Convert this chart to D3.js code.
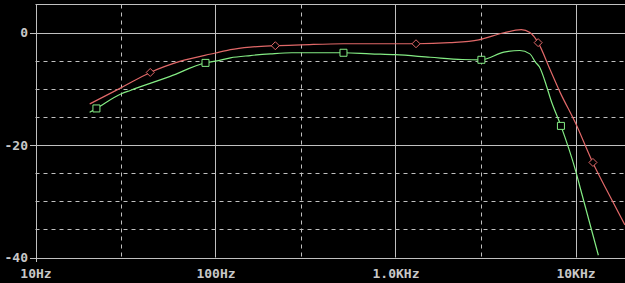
<!DOCTYPE html>
<html>
<head>
<meta charset="utf-8">
<script src="https://d3js.org/d3.v7.min.js"></script>
<style>
  html, body { margin: 0; padding: 0; background: #000; }
  svg { display: block; }
  text { font-family: "DejaVu Sans Mono", monospace; font-size: 13px; font-weight: bold; fill: #c8c8c8; }
</style>
</head>
<body>
<svg id="chart"></svg>
<script>
// ----------------------------------------
//  Data
// ----------------------------------------

var redFreq = [20, 30, 43.4, 64, 100, 121, 156, 215, 300, 514, 1000, 1300, 2000, 2900, 4000, 5000, 5580, 6200, 7200, 8200, 10000, 12500, 14900, 18800];
var redDb   = [-12.7, -9.8, -7.1, -5.1, -3.65, -3.05, -2.6, -2.35, -2.2, -2.0, -2.0, -2.0, -1.8, -1.3, -0.05, 0.5, 0.0, -1.8, -6.5, -10.6, -16.1, -23.2, -28.0, -34.2];

var greenFreq = [20, 21.8, 30, 33.6, 56, 88, 100, 121, 156, 202, 265, 514, 725, 1000, 1560, 2350, 3000, 4000, 4900, 5580, 6000, 6300, 6900, 7300, 8300, 10000, 10700, 13400];
var greenDb   = [-14.2, -13.5, -10.9, -10.3, -7.8, -5.4, -5.1, -4.5, -4.1, -3.8, -3.6, -3.6, -3.8, -3.95, -4.4, -4.8, -4.85, -3.5, -3.2, -3.8, -5.3, -6.1, -9.5, -12.0, -16.6, -24.5, -28.0, -39.6];

var redMarkFreq   = [43.4, 215, 1300, 6200, 12500];
var redMarkDb     = [-7.1, -2.35, -2.0, -1.8, -23.1];
var greenMarkFreq = [21.8, 88, 514, 3000, 8300];
var greenMarkDb   = [-13.5, -5.4, -3.6, -4.85, -16.6];

var xTicks      = [10, 100, 1000, 10000];
var xTickLabels = ["10Hz", "100Hz", "1.0KHz", "10KHz"];
var xDashed     = [30, 300, 3000];
var yTicks      = [0, -20, -40];
var yDashed     = [-5, -10, -15, -25, -30, -35];

// ----------------------------------------
// Sizing the Chart
// ----------------------------------------

var width = 625, height = 283;
var plotLeft = 35.5, plotRight = 625, plotTop = 4.5, plotBottom = 257.5;

var svg = d3.select('#chart')
    .attr("width", width)
    .attr("height", height);

var x = d3.scaleLog()
    .domain([10, 10000])
    .range([plotLeft, 575.5]);

var y = d3.scaleLinear()
    .domain([-40, 0])
    .range([plotBottom, 32.5]);

var grid = "#c0c0c0";

// ----------------------------------------
// Grid
// ----------------------------------------

// dashed horizontals
svg.selectAll('line.hdash').data(yDashed).enter().append('line')
    .attr('x1', plotLeft).attr('x2', plotRight)
    .attr('y1', function(d) { return Math.round(y(d)) + 0.5; })
    .attr('y2', function(d) { return Math.round(y(d)) + 0.5; })
    .attr('stroke', grid).attr('stroke-dasharray', '4,4');

// dashed verticals
svg.selectAll('line.vdash').data(xDashed).enter().append('line')
    .attr('x1', function(d) { return Math.round(x(d)) + 0.5; })
    .attr('x2', function(d) { return Math.round(x(d)) + 0.5; })
    .attr('y1', plotTop).attr('y2', plotBottom)
    .attr('stroke', grid).attr('stroke-dasharray', '4,4');

// solid horizontals (top border + major ticks)
svg.selectAll('line.hsolid').data([5].concat(yTicks)).enter().append('line')
    .attr('x1', function(d) { return d === 5 ? plotLeft : 30; }).attr('x2', plotRight)
    .attr('y1', function(d) { return d === 5 ? plotTop : Math.round(y(d)) + 0.5; })
    .attr('y2', function(d) { return d === 5 ? plotTop : Math.round(y(d)) + 0.5; })
    .attr('stroke', grid);

// solid verticals
svg.selectAll('line.vsolid').data(xTicks).enter().append('line')
    .attr('x1', function(d) { return Math.round(x(d)) + 0.5; })
    .attr('x2', function(d) { return Math.round(x(d)) + 0.5; })
    .attr('y1', plotTop).attr('y2', function(d) { return d === 10 ? 262 : plotBottom; })
    .attr('stroke', grid);

// ----------------------------------------
// Labels
// ----------------------------------------

svg.selectAll('text.ylab').data(yTicks).enter().append('text')
    .attr('x', 28).attr('y', function(d) { return y(d) + 4.5; })
    .attr('text-anchor', 'end')
    .text(function(d) { return d; });

svg.selectAll('text.xlab').data(xTicks).enter().append('text')
    .attr('x', function(d) { return x(d) + 0.5; }).attr('y', 278)
    .attr('text-anchor', 'middle')
    .text(function(d, i) { return xTickLabels[i]; });

// ----------------------------------------
// Traces
// ----------------------------------------

var line = d3.line()
    .x(function(d) { return x(d[0]); })
    .y(function(d) { return y(d[1]); })
    .curve(d3.curveMonotoneX);

svg.append('clipPath').attr('id', 'plot').append('rect')
    .attr('x', plotLeft).attr('y', plotTop)
    .attr('width', plotRight - plotLeft).attr('height', plotBottom - plotTop);

var traces = [
  { f: redFreq, v: redDb, mf: redMarkFreq, mv: redMarkDb, color: "#e06868", mark: "diamond" },
  { f: greenFreq, v: greenDb, mf: greenMarkFreq, mv: greenMarkDb, color: "#84ec84", mark: "square" }
];

traces.forEach(function(t) {
  var pts = t.f.map(function(f, i) { return [f, t.v[i]]; });
  svg.append('path')
      .attr('clip-path', 'url(#plot)')
      .attr('d', line(pts))
      .attr('fill', 'none')
      .attr('stroke', t.color)
      .attr('stroke-width', 1.2);

  var marks = t.mf.map(function(f, i) { return [f, t.mv[i]]; });
  svg.selectAll(null).data(marks).enter().append('path')
      .attr('transform', function(d) { return 'translate(' + x(d[0]) + ',' + y(d[1]) + ')'; })
      .attr('d', t.mark === "diamond" ? "M0,-4L4,0L0,4L-4,0Z" : "M-3.5,-3.5H3.5V3.5H-3.5Z")
      .attr('fill', '#000')
      .attr('stroke', t.color)
      .attr('stroke-width', 1);
});
</script>
</body>
</html>
